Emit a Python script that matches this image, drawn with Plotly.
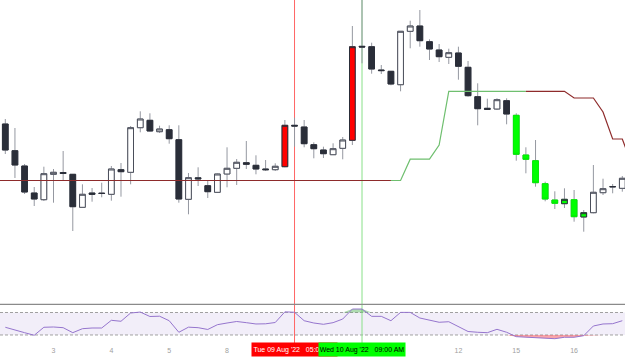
import numpy as np
import plotly.graph_objects as go

# ---------------- data ----------------
opens = [276, 249.3, 234, 207, 200.3, 225.7, 227.5, 225.7, 192.7, 207, 206.9, 205.7, 230.3, 227.7, 272.3, 279.7,
         268.3, 270.3, 260.3, 200.7, 222.2, 214.3, 207.7, 226, 231.7, 237.3, 234.7, 231, 230.3, 233.3, 274.7, 273,
         255.3, 250, 245.3, 251.7, 259.7, 353.7, 353.3, 330, 328.7, 315.3, 368.7, 374, 358.3, 350, 342.7, 347,
         332.7, 303.3, 291.7, 291, 299.3, 284.7, 245, 239.3, 216.3, 200, 196.3, 200.3, 183, 187.3, 207.3, 213.5, 211.7]
highs = [281, 272, 236, 213, 233.3, 231, 249, 225.7, 215.7, 212, 217.3, 234, 237, 274, 288.7, 286.7,
         274.3, 274.7, 274.7, 227, 232.7, 219.7, 226.5, 252.7, 241, 259, 244.7, 240, 236.7, 280, 282.3, 280,
         257.7, 253.3, 256.7, 263, 374, 400.5, 357.3, 335, 329, 368.7, 379.3, 390, 360.7, 356, 351.3, 353.3,
         339, 316.7, 301.3, 301.7, 301.7, 286.7, 252.7, 260, 218.3, 208.7, 211.7, 210, 190, 235, 221.3, 216, 224]
lows = [246, 222, 206, 194, 199, 197.3, 220, 169, 192.5, 198.3, 202.7, 199.3, 203.3, 215.7, 267.7, 268.5,
        267, 256.3, 197.3, 185.7, 214, 202, 207.2, 212.7, 215, 231, 225.7, 229, 229, 232.7, 253.3, 252.7,
        241.7, 242, 245, 240.7, 255, 336.7, 326.3, 326, 314.7, 308.7, 351.7, 353.3, 340, 338, 336, 320.3,
        303.3, 274.7, 290, 290, 275.7, 239.3, 226.7, 213.3, 198.7, 191, 192, 178.3, 168.3, 186.7, 205, 206.7, 208.3]
closes = [250, 235, 208, 201, 226.3, 227.7, 226.5, 193.3, 205.7, 205.7, 206.5, 231, 228.3, 272.3, 281, 269,
          271, 261.3, 201, 222.3, 221.2, 208.3, 226, 231.7, 237.7, 235.7, 231, 230.3, 233.7, 274.7, 274.0, 256.3,
          251.3, 246.3, 251.3, 260, 353.3, 353.0, 331, 329.4, 316, 368.7, 374, 359.3, 351, 343.3, 347.3, 333.7,
          304.3, 291.3, 290.7, 300.3, 286, 245.7, 240.7, 217.3, 201, 196.7, 200.7, 183.3, 187.3, 207.7, 211.3, 213.2, 221.7]

# candles flagged by the signal study
red_signal = [29, 36]
green_signal = [53, 54, 55, 56, 57, 58, 59, 60]

# trailing stop line, from one bar before the first visible candle to one bar after the last
stop_line_first_index = -1
stop_line = [219.5] * 43 + [240.8, 240.8, 240.8, 255] + [308.7] * 13 + [302, 302, 302, 288, 261, 261, 235]
stop_up_start, stop_up_end = 40, 54   # bar indices where the line is drawn in green

rsi = [43.7, 38.4, 34.1, 29.5, 43.7, 44.2, 43.0, 34.1, 41.2, 42.4, 42.4, 56.1, 54.4, 69.1, 70.8, 62.9,
       63.4, 55.4, 34.8, 43.9, 43.0, 39.8, 48.3, 51.3, 54.0, 51.9, 49.6, 49.9, 52.2, 71.2, 70.4, 55.4,
       51.3, 49.0, 51.9, 58.4, 76.2, 76.2, 63.2, 63.2, 55.4, 70.2, 70.2, 60.2, 56.1, 52.6, 53.6, 44.8,
       36.2, 34.8, 34.1, 40.1, 34.8, 27.0, 25.9, 24.7, 23.4, 23.4, 25.9, 25.9, 28.8, 46.0, 49.6, 50.1, 55.4]
rsi_upper, rsi_lower = 70, 30

day_tick_index = [5, 11, 17, 23, 47, 53, 59]
day_tick_text = ["3", "4", "5", "8", "12", "15", "16"]

marker_red_index = 30
marker_red_text = "Tue 09 Aug '22\u00a0\u00a0\u00a005:00 AM"
marker_green_index = 37
marker_green_text = "Wed 10 Aug '22\u00a0\u00a0\u00a009:00 AM"

# ---------------- figure ----------------
n = len(opens)
idx = list(range(n))
fig = go.Figure()

WICK = "#9598a1"
DARK = "#2a2e39"

# wicks (full range, gray)
fig.add_trace(go.Candlestick(
    x=idx, open=opens, high=highs, low=lows, close=closes,
    increasing=dict(line=dict(color=WICK, width=1), fillcolor=WICK),
    decreasing=dict(line=dict(color=WICK, width=1), fillcolor=WICK),
    hoverinfo="skip", xaxis="x", yaxis="y"))

def body_trace(ids, inc_fill, inc_line, dec_fill, dec_line):
    o = [opens[i] for i in ids]
    c = [closes[i] for i in ids]
    return go.Candlestick(
        x=ids, open=o, close=c,
        high=[max(a, b) for a, b in zip(o, c)],
        low=[min(a, b) for a, b in zip(o, c)],
        increasing=dict(line=dict(color=inc_line, width=1), fillcolor=inc_fill),
        decreasing=dict(line=dict(color=dec_line, width=1), fillcolor=dec_fill),
        hoverinfo="skip", xaxis="x", yaxis="y")

normal = [i for i in idx if i not in red_signal and i not in green_signal]
fig.add_trace(body_trace(normal, "#ffffff", "#4a4e5a", DARK, DARK))
fig.add_trace(body_trace(red_signal, "#ff0000", DARK, "#ff0000", "#ff0000"))
fig.add_trace(body_trace(green_signal, "#00ff00", DARK, "#00ff00", "#00ee00"))

# stop line
sx = [stop_line_first_index + k for k in range(len(stop_line))]
a = stop_up_start - stop_line_first_index
b = stop_up_end - stop_line_first_index
fig.add_trace(go.Scatter(x=sx[:a + 1], y=stop_line[:a + 1], mode="lines",
                         line=dict(color="#8e2b2b", width=1.2), hoverinfo="skip", xaxis="x", yaxis="y"))
fig.add_trace(go.Scatter(x=sx[a:b + 1], y=stop_line[a:b + 1], mode="lines",
                         line=dict(color="#6fbf6f", width=1.2), hoverinfo="skip", xaxis="x", yaxis="y"))
fig.add_trace(go.Scatter(x=sx[b:], y=stop_line[b:], mode="lines",
                         line=dict(color="#8e2b2b", width=1.2), hoverinfo="skip", xaxis="x", yaxis="y"))

# RSI fills and line
rs = np.array(rsi)
fig.add_trace(go.Scatter(x=idx, y=[rsi_upper] * n, mode="lines", line=dict(width=0),
                         hoverinfo="skip", xaxis="x2", yaxis="y2"))
fig.add_trace(go.Scatter(x=idx, y=np.maximum(rs, rsi_upper), mode="lines", line=dict(width=0),
                         fill="tonexty", fillcolor="rgba(76,175,80,0.45)",
                         hoverinfo="skip", xaxis="x2", yaxis="y2"))
fig.add_trace(go.Scatter(x=idx, y=[rsi_lower] * n, mode="lines", line=dict(width=0),
                         hoverinfo="skip", xaxis="x2", yaxis="y2"))
fig.add_trace(go.Scatter(x=idx, y=np.minimum(rs, rsi_lower), mode="lines", line=dict(width=0),
                         fill="tonexty", fillcolor="rgba(242,54,69,0.45)",
                         hoverinfo="skip", xaxis="x2", yaxis="y2"))
fig.add_trace(go.Scatter(x=idx, y=rsi, mode="lines", line=dict(color="#9575cd", width=1),
                         hoverinfo="skip", xaxis="x2", yaxis="y2"))

H = 359.0
main_dom = [1 - 303 / H, 1]
rsi_dom = [1 - 340.6 / H, 1 - 304.3 / H]
xr = [-0.55, 64.28]

shapes = [
    dict(type="rect", xref="paper", x0=0, x1=1, yref="y2", y0=rsi_lower, y1=rsi_upper,
         fillcolor="rgba(126,87,194,0.1)", line=dict(width=0), layer="below"),
    dict(type="line", xref="paper", x0=0, x1=1, yref="y2", y0=rsi_upper, y1=rsi_upper,
         line=dict(color="#a0a0a0", width=1, dash="3px,2px"), layer="below"),
    dict(type="line", xref="paper", x0=0, x1=1, yref="y2", y0=rsi_lower, y1=rsi_lower,
         line=dict(color="#a0a0a0", width=1, dash="3px,2px"), layer="below"),
    dict(type="line", xref="paper", x0=0, x1=1, yref="paper", y0=rsi_dom[1], y1=rsi_dom[1],
         line=dict(color="#8a8a8a", width=1.3), layer="above"),
    dict(type="line", xref="x", x0=marker_red_index, x1=marker_red_index, yref="paper", y0=0.03, y1=1,
         line=dict(color="#ff6666", width=1), layer="below"),
    dict(type="line", xref="x", x0=marker_green_index, x1=marker_green_index, yref="paper", y0=0.03, y1=1,
         line=dict(color="#88e088", width=1), layer="below"),
]

lab_y = 1 - 349.5 / H
annotations = [
    dict(x=marker_red_index, xref="x2", y=lab_y, yref="paper", text=marker_red_text, showarrow=False,
         bgcolor="#ff0000", width=85, height=13, borderpad=0, xanchor="center", yanchor="middle",
         font=dict(color="#ffffff", size=7, family="Liberation Sans, Arial")),
    dict(x=marker_green_index, xref="x2", y=lab_y, yref="paper", text=marker_green_text, showarrow=False,
         bgcolor="#00ff00", width=86, height=13, borderpad=0, xanchor="center", yanchor="middle",
         font=dict(color="#000000", size=7, family="Liberation Sans, Arial")),
]

fig.update_layout(
    width=625, height=359, autosize=False,
    margin=dict(l=0, r=0, t=0, b=0),
    paper_bgcolor="#ffffff", plot_bgcolor="#ffffff",
    showlegend=False,
    hovermode=False,
    boxgap=0.15, boxgroupgap=0.3,
    xaxis=dict(range=xr, domain=[0, 1], anchor="y", showticklabels=False, showgrid=False,
               zeroline=False, rangeslider=dict(visible=False), fixedrange=True),
    yaxis=dict(range=[97, 400], domain=main_dom, showticklabels=False, showgrid=False,
               zeroline=False, fixedrange=True),
    xaxis2=dict(range=xr, domain=[0, 1], anchor="y2", matches="x", showgrid=False, zeroline=False,
                tickmode="array", tickvals=day_tick_index, ticktext=day_tick_text,
                ticks="outside", ticklen=3, tickcolor="rgba(0,0,0,0)",
                tickfont=dict(size=7, color="#a0a0a0", family="Liberation Sans, Arial"),
                rangeslider=dict(visible=False)),
    yaxis2=dict(range=[20, 84.6], domain=rsi_dom, showticklabels=False, showgrid=False,
                zeroline=False, fixedrange=True),
    shapes=shapes,
    annotations=annotations,
)

fig.write_html("out.html")
